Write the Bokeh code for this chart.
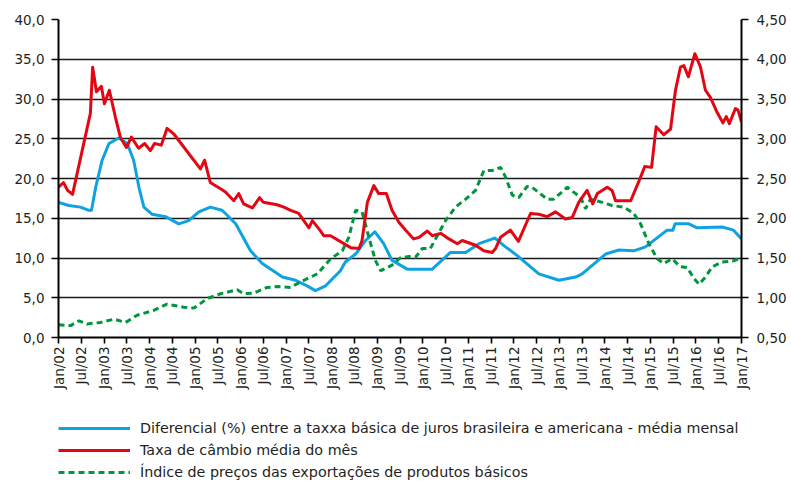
import math
from bokeh.plotting import figure
from bokeh.layouts import column
from bokeh.models import Range1d, LinearAxis, FixedTicker, Legend, LegendItem
from bokeh.embed import file_html
from bokeh.resources import INLINE

FONT = "DejaVu Sans"
TXT = "#231f20"

# x = months since Jan/2002
tick_months = list(range(0, 181, 6))
tick_labels = ["Jan/02", "Jul/02", "Jan/03", "Jul/03", "Jan/04", "Jul/04", "Jan/05", "Jul/05",
               "Jan/06", "Jul/06", "Jan/07", "Jul/07", "Jan/08", "Jul/08", "Jan/09", "Jul/09",
               "Jan/10", "Jul/10", "Jan/11", "Jul/11", "Jan/12", "Jul/12", "Jan/13", "Jul/13",
               "Jan/14", "Jul/14", "Jan/15", "Jul/15", "Jan/16", "Jul/16", "Jan/17"]
left_ticks = [0, 5, 10, 15, 20, 25, 30, 35, 40]
left_labels = ["0,0", "5,0", "10,0", "15,0", "20,0", "25,0", "30,0", "35,0", "40,0"]
right_ticks = [0.5, 1.0, 1.5, 2.0, 2.5, 3.0, 3.5, 4.0, 4.5]
right_labels = ["0,50", "1,00", "1,50", "2,00", "2,50", "3,00", "3,50", "4,00", "4,50"]

# Diferencial (%) - left axis
blue_m = [0, 2.7, 5.8, 8, 8.7, 9.8, 11.5, 13.3, 15.9, 18.1, 19.8, 21.2, 22.5, 24.7, 28.2, 31.7,
          34.3, 37, 40, 43.1, 44, 46.7, 50.6, 53.7, 59, 62.5, 65.5, 67.7, 70.4, 74.3, 75.6,
          78.3, 80.9, 83.4, 85.7, 87.9, 91.9, 98.5, 103.3, 107.3, 110.8, 115, 117.8, 120.9,
          126.6, 131.9, 136.3, 138, 144.2, 147.7, 151.6, 154.7, 160.4, 161.9, 162.5, 166.1,
          168.3, 174.9, 177.9, 180]
blue_v = [17.0, 16.6, 16.4, 16.0, 16.0, 18.9, 22.3, 24.4, 25.1, 24.4, 22.3, 18.9, 16.4, 15.5,
          15.2, 14.3, 14.7, 15.8, 16.4, 16.0, 15.6, 14.3, 10.9, 9.3, 7.6, 7.2, 6.5, 5.9, 6.5,
          8.4, 9.5, 10.5, 12.2, 13.3, 11.8, 9.7, 8.6, 8.6, 10.7, 10.7, 11.8, 12.5, 11.4, 10.3,
          8.0, 7.2, 7.6, 8.0, 10.5, 11.0, 10.9, 11.4, 13.5, 13.5, 14.3, 14.3, 13.8, 13.9, 13.5,
          12.4]

# Taxa de cambio - right axis
red_m = [0, 1.3, 2.4, 3.7, 8.4, 9.0, 10, 11.3, 12.1, 13.4, 15, 16.3, 17.9, 19.2, 21.1, 22.7,
         24.2, 25.3, 27.1, 28.6, 30.4, 37.4, 38.5, 40, 42.7, 44, 46.2, 47.5, 48.8, 51.1, 53,
         54, 57.6, 59.4, 61.2, 63.3, 66, 66.9, 68.9, 69.9, 71.7, 77, 79.2, 80, 81.4, 83.1,
         84.4, 86.4, 87.9, 89.7, 91.5, 93.6, 95, 97.2, 98.5, 100.7, 102.9, 105.1, 106.4,
         109.9, 112.1, 114.3, 115.2, 116.5, 119.1, 121.2, 124.4, 126.6, 128.8, 131, 133.6,
         135.4, 137.1, 139.3, 140.8, 142, 144.6, 145.9, 146.8, 150.8, 153, 154.5, 156.3,
         157.5, 159.5, 161.3, 162.6, 163.9, 164.8, 166, 167.7, 169.2, 170.5, 171.8, 173.6,
         175.1, 176, 176.8, 178.4, 179.1, 180]
red_v = [2.39, 2.45, 2.35, 2.30, 3.32, 3.90, 3.59, 3.66, 3.44, 3.61, 3.27, 3.02, 2.89, 3.02,
         2.88, 2.94, 2.85, 2.94, 2.92, 3.13, 3.06, 2.62, 2.73, 2.45, 2.37, 2.33, 2.22, 2.31,
         2.18, 2.13, 2.26, 2.20, 2.17, 2.14, 2.10, 2.06, 1.88, 1.97, 1.85, 1.78, 1.78, 1.63,
         1.62, 1.72, 2.20, 2.41, 2.31, 2.31, 2.10, 1.95, 1.85, 1.74, 1.76, 1.84, 1.78, 1.81,
         1.74, 1.68, 1.72, 1.66, 1.59, 1.57, 1.62, 1.76, 1.85, 1.71, 2.06, 2.05, 2.02, 2.08,
         1.99, 2.01, 2.20, 2.35, 2.18, 2.31, 2.39, 2.35, 2.22, 2.22, 2.47, 2.65, 2.64, 3.15,
         3.05, 3.12, 3.61, 3.90, 3.92, 3.78, 4.07, 3.90, 3.61, 3.52, 3.33, 3.20, 3.28, 3.19,
         3.38, 3.36, 3.21]

# Indice de precos das exportacoes - right axis
green_m = [0, 3.2, 5.4, 7.6, 11.1, 14.6, 17.7, 20.7, 25.1, 28.6, 33, 35.7, 39.2, 42.7, 47.1,
           48.8, 51.5, 55, 57.6, 61.2, 63.8, 68.2, 71.7, 74.8, 76.5, 78.3, 80, 81.8, 83.5,
           84.9, 87.9, 90, 92.3, 94.1, 95.9, 98, 102, 104.6, 107.3, 109.9, 112.1, 114.3,
           116.5, 117.8, 119.6, 121.3, 123.5, 124.8, 128.8, 130.5, 134.1, 136.3, 137.6,
           138.9, 140.2, 143.3, 145.9, 149, 151.6, 153.4, 155.6, 157.8, 159.5, 161.7, 163.9,
           165.7, 167.5, 168.8, 170.5, 172.3, 174.9, 177.6, 180]
green_v = [0.66, 0.65, 0.71, 0.67, 0.69, 0.73, 0.69, 0.78, 0.84, 0.92, 0.88, 0.87, 0.99, 1.05,
           1.10, 1.05, 1.06, 1.13, 1.14, 1.13, 1.20, 1.30, 1.49, 1.59, 1.76, 2.10, 2.08, 1.76,
           1.47, 1.34, 1.41, 1.50, 1.52, 1.51, 1.62, 1.62, 1.97, 2.14, 2.24, 2.35, 2.60, 2.60,
           2.64, 2.52, 2.29, 2.26, 2.40, 2.39, 2.24, 2.24, 2.39, 2.31, 2.26, 2.12, 2.24, 2.20,
           2.16, 2.14, 2.06, 1.93, 1.68, 1.49, 1.43, 1.49, 1.39, 1.38, 1.24, 1.17, 1.26, 1.39,
           1.45, 1.46, 1.50]

series_labels = [
    "Diferencial (%) entre a taxxa básica de juros brasileira e americana - média mensal",
    "Taxa de câmbio média do mês",
    "Índice de preços das exportações de produtos básicos",
]
BLUE, RED, GREEN = "#0ea2e0", "#e30613", "#00963f"
STYLES = [dict(line_color=BLUE, line_width=3, line_join="round"),
          dict(line_color=RED, line_width=3, line_join="round"),
          dict(line_color=GREEN, line_width=3, line_dash="6 4")]

p = figure(width=791, height=395, output_backend="svg", toolbar_location=None,
           x_range=Range1d(0, 180), y_range=Range1d(0, 40),
           min_border_left=58, min_border_right=50, min_border_top=19, min_border_bottom=58)
p.extra_y_ranges = {"rate": Range1d(0.5, 4.5)}
p.outline_line_color = None
p.background_fill_color = "white"
p.border_fill_color = "white"

p.xgrid.visible = False
p.ygrid.ticker = FixedTicker(ticks=left_ticks)
p.ygrid.grid_line_color = "#1a1a1a"
p.ygrid.grid_line_width = 1.6


def style_axis(ax):
    ax.axis_line_color = "black"
    ax.axis_line_width = 2
    ax.major_tick_line_color = "black"
    ax.major_tick_line_width = 1.6
    ax.major_tick_in = 0
    ax.minor_tick_line_color = None
    ax.major_label_text_font = FONT
    ax.major_label_text_font_size = "13.5px"
    ax.major_label_text_color = TXT


xa = p.xaxis[0]
style_axis(xa)
xa.ticker = FixedTicker(ticks=tick_months)
xa.major_label_overrides = dict(zip(tick_months, tick_labels))
xa.major_label_orientation = math.pi / 2
xa.major_tick_out = 6
xa.major_label_standoff = 3

ya = p.yaxis[0]
style_axis(ya)
ya.ticker = FixedTicker(ticks=left_ticks)
ya.major_label_overrides = dict(zip(left_ticks, left_labels))
ya.major_tick_out = 7
ya.major_label_standoff = 7

ra = LinearAxis(y_range_name="rate")
style_axis(ra)
ra.ticker = FixedTicker(ticks=right_ticks)
ra.major_label_overrides = dict(zip(right_ticks, right_labels))
ra.major_tick_out = 7
ra.major_label_standoff = 8
p.add_layout(ra, "right")

p.line(blue_m, blue_v, **STYLES[0])
p.line(green_m, green_v, y_range_name="rate", **STYLES[2])
p.line(red_m, red_v, y_range_name="rate", **STYLES[1])

# legend strip below the chart (same line styles as the series)
lg = figure(width=791, height=88, output_backend="svg", toolbar_location=None,
            x_range=Range1d(0, 1), y_range=Range1d(0, 1),
            x_axis_type=None, y_axis_type=None,
            min_border_left=0, min_border_right=0, min_border_top=0, min_border_bottom=0)
lg.outline_line_color = None
lg.grid.visible = False
items = []
for lab, st in zip(series_labels, STYLES):
    r = lg.line([float("nan")], [float("nan")], **st)
    items.append(LegendItem(label=lab, renderers=[r]))

legend = Legend(items=items, location=(0, 0), orientation="vertical")
legend.glyph_width = 72
legend.glyph_height = 22
legend.label_height = 22
legend.spacing = 0
legend.padding = 0
legend.margin = 0
legend.label_standoff = 10
legend.label_text_font = FONT
legend.label_text_font_size = "14.3px"
legend.label_text_color = TXT
legend.border_line_color = None
legend.background_fill_alpha = 0
lg.add_layout(legend)

layout = column(p, lg, spacing=0)
open("out.html", "w").write(file_html(layout, INLINE))
